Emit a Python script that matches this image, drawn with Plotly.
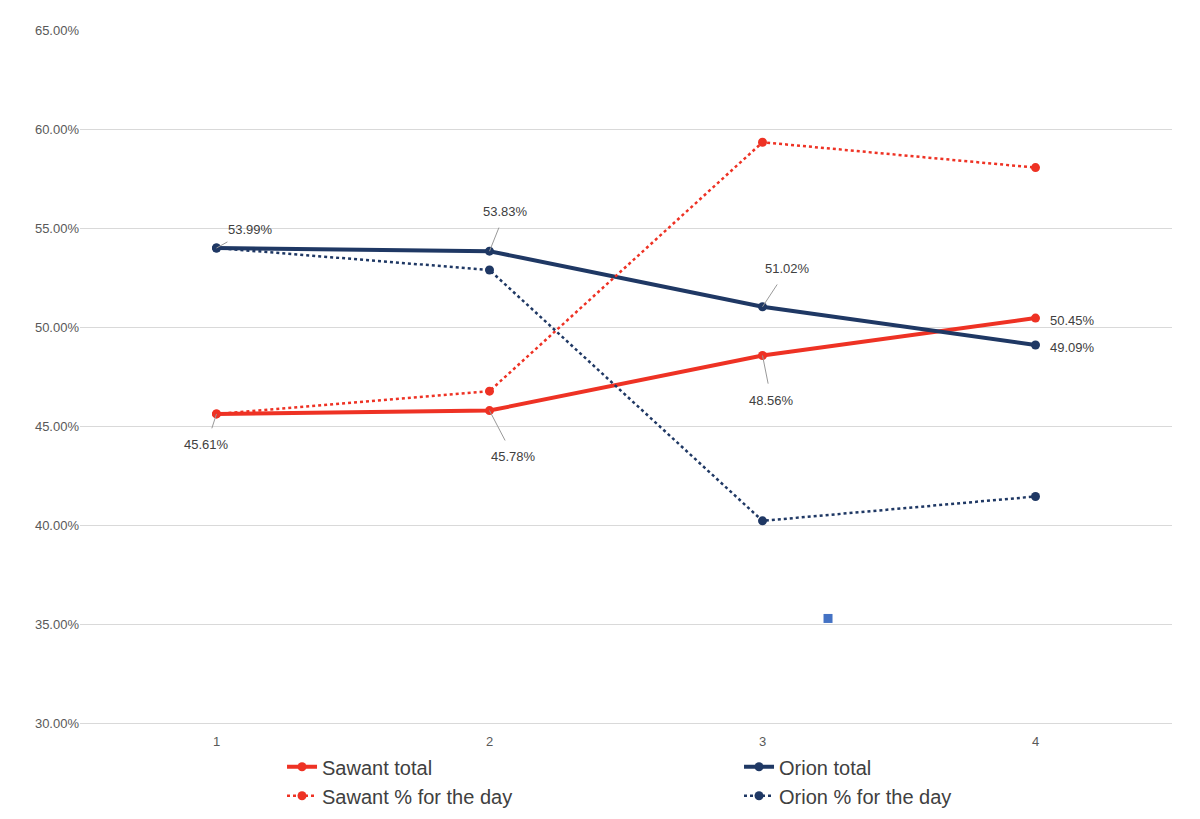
import plotly.graph_objects as go

days = [1, 2, 3, 4]
sawant_total = [45.61, 45.78, 48.56, 50.45]
orion_total = [53.99, 53.83, 51.02, 49.09]
sawant_day = [45.61, 46.76, 59.33, 58.05]
orion_day = [53.99, 52.88, 40.21, 41.44]
stray_x = [3.24, 3.24]
stray_y = [35.28, 29.7]

RED = "#EE3224"
NAVY = "#1F3864"

fig = go.Figure()
fig.add_trace(go.Scatter(x=days, y=sawant_total, name="Sawant total", mode="lines+markers",
                         line=dict(color=RED, width=4), marker=dict(size=9)))
fig.add_trace(go.Scatter(x=days, y=orion_total, name="Orion total", mode="lines+markers",
                         line=dict(color=NAVY, width=4), marker=dict(size=9)))
fig.add_trace(go.Scatter(x=days, y=sawant_day, name="Sawant % for the day", mode="lines+markers",
                         line=dict(color=RED, width=2.5, dash="dot"), marker=dict(size=9)))
fig.add_trace(go.Scatter(x=days, y=orion_day, name="Orion % for the day", mode="lines+markers",
                         line=dict(color=NAVY, width=2.5, dash="dot"), marker=dict(size=9)))
fig.add_trace(go.Scatter(x=stray_x, y=stray_y, mode="markers", showlegend=False, cliponaxis=False,
                         marker=dict(symbol="square", size=9, color="#4472C4")))

# data labels with leader lines (offsets in px)
labels = [
    (1, 53.99, 34, -19, "53.99%"), (2, 53.83, 16, -40, "53.83%"),
    (3, 51.02, 25, -38, "51.02%"), (3, 48.56, 9, 45, "48.56%"),
    (1, 45.61, -10, 31, "45.61%"), (2, 45.78, 24, 46, "45.78%"),
]
for x, y, ax, ay, t in labels:
    fig.add_annotation(x=x, y=y, ax=ax, ay=ay, text=t, showarrow=True, arrowhead=0,
                       arrowwidth=1, arrowcolor="#999999", standoff=0, startstandoff=8,
                       font=dict(size=13, color="#404040"))
for y, t, dy in [(50.45, "50.45%", -2), (49.09, "49.09%", -2)]:
    fig.add_annotation(x=4, y=y, text=t, showarrow=False, xanchor="left", xshift=12,
                       yshift=dy, font=dict(size=13, color="#404040"))

fig.update_layout(
    width=1200, height=819, plot_bgcolor="white", paper_bgcolor="white",
    margin=dict(l=72, r=14, t=22, b=87),
    font=dict(family="Liberation Sans, Arial", color="#595959"),
    xaxis=dict(range=[0.5, 4.5], tickvals=days, showgrid=False, showline=True,
               linecolor="#D9D9D9", ticks="outside", ticklen=6, tickcolor="white",
               tickfont=dict(size=13, color="#595959"), automargin=False),
    yaxis=dict(range=[30, 65], dtick=5, ticksuffix="%", tickformat=".2f",
               gridcolor="#D9D9D9", zeroline=False, tickfont=dict(size=13),
               automargin=False),
    legend=dict(orientation="h", x=0.185, y=-0.035, yanchor="top", entrywidth=412,
                font=dict(size=20, color="#404040"), tracegroupgap=0),
)
fig.write_html("out.html")
